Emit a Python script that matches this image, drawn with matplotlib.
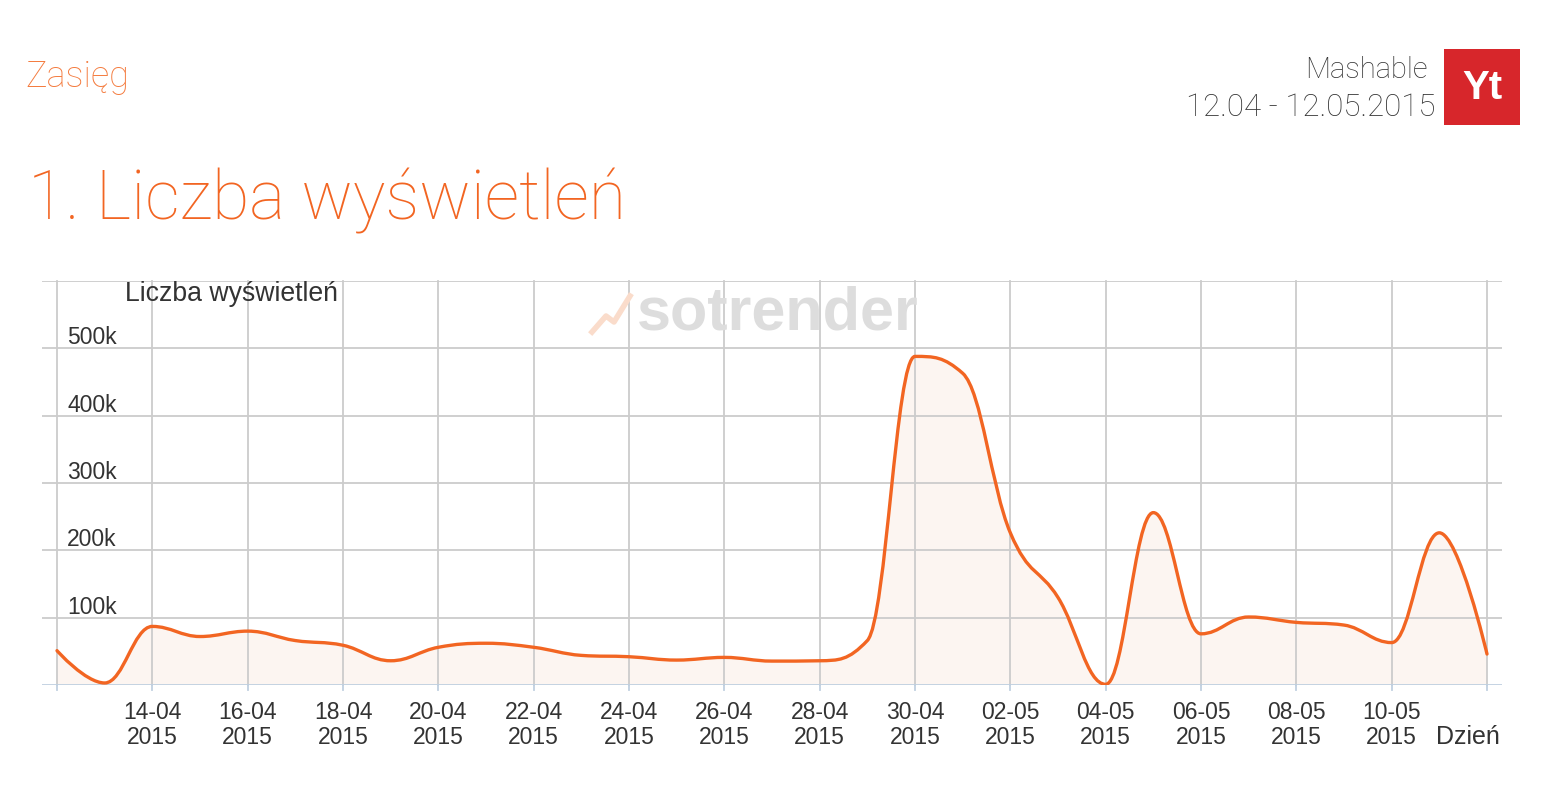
import matplotlib
matplotlib.use("Agg")
import matplotlib.pyplot as plt
from matplotlib.path import Path
from matplotlib.patches import PathPatch, Rectangle
import matplotlib.transforms as mtransforms

# ---- data ----
days = ["12-04", "13-04", "14-04", "15-04", "16-04", "17-04", "18-04", "19-04",
        "20-04", "21-04", "22-04", "23-04", "24-04", "25-04", "26-04", "27-04",
        "28-04", "29-04", "30-04", "01-05", "02-05", "03-05", "04-05", "05-05",
        "06-05", "07-05", "08-05", "09-05", "10-05", "11-05", "12-05"]
views = [51000, 3000, 87000, 72000, 80000, 66000, 59000, 36000,
         56000, 62000, 56000, 44000, 42000, 37000, 41000, 35500,
         36000, 66000, 488000, 463000, 226000, 130000, 1000, 256000,
         76000, 101000, 93000, 89000, 63000, 226000, 46000]
year = "2015"
y_ticks = [100000, 200000, 300000, 400000, 500000]
y_tick_labels = ["100k", "200k", "300k", "400k", "500k"]

ORANGE = "#F26522"
FILL = "#FCF5F1"
GRID = "#CCCCCC"
AXIS = "#C0D0E0"
TXT = "#333333"
LIGHT = dict(family="Roboto", fontweight="light")

def hc_spline(xs, ys, smoothing=1.5):
    """Highcharts-style spline: returns path vertices and codes."""
    n = len(xs)
    verts = [(xs[0], ys[0])]
    codes = [Path.MOVETO]
    left = [None] * n
    right = [None] * n
    denom = smoothing + 1
    for i in range(n):
        px, py = xs[i], ys[i]
        if i == 0 or i == n - 1:
            left[i] = (px, py)
            right[i] = (px, py)
            continue
        lx, ly = xs[i - 1], ys[i - 1]
        nx, ny = xs[i + 1], ys[i + 1]
        lcx = (smoothing * px + lx) / denom
        lcy = (smoothing * py + ly) / denom
        rcx = (smoothing * px + nx) / denom
        rcy = (smoothing * py + ny) / denom
        if rcx != lcx:
            corr = ((rcy - lcy) * (rcx - px)) / (rcx - lcx) + py - rcy
            lcy += corr
            rcy += corr
        if lcy > ly and lcy > py:
            lcy = max(ly, py); rcy = 2 * py - lcy
        elif lcy < ly and lcy < py:
            lcy = min(ly, py); rcy = 2 * py - lcy
        if rcy > ny and rcy > py:
            rcy = max(ny, py); lcy = 2 * py - rcy
        elif rcy < ny and rcy < py:
            rcy = min(ny, py); lcy = 2 * py - rcy
        left[i] = (lcx, lcy)
        right[i] = (rcx, rcy)
    for i in range(1, n):
        verts += [right[i - 1], left[i], (xs[i], ys[i])]
        codes += [Path.CURVE4] * 3
    return verts, codes

W, H = 1556, 809
fig = plt.figure(figsize=(W / 100, H / 100), dpi=100)
fig.patch.set_facecolor("white")

L, R, T, B = 42, 1502, 281, 685
ax = fig.add_axes([L / W, (H - B) / H, (R - L) / W, (B - T) / H])
n = len(views)
px_per_day = (1487 - 57) / (n - 1)
pad = 15 / px_per_day
ax.set_xlim(-pad, n - 1 + pad)
ax.set_ylim(0, 600000)
for s in ax.spines.values():
    s.set_visible(False)
ax.set_xticks([])
ax.set_yticks([])
ax.patch.set_alpha(0)

xs = list(range(n))
# spline fill + line
verts, codes = hc_spline(xs, views)
fill_verts = verts + [(xs[-1], 0), (xs[0], 0), verts[0]]
fill_codes = codes + [Path.LINETO, Path.LINETO, Path.CLOSEPOLY]
ax.add_patch(PathPatch(Path(fill_verts, fill_codes), facecolor=FILL, edgecolor="none", zorder=1))
ax.add_patch(PathPatch(Path(verts, codes), facecolor="none", edgecolor=ORANGE, lw=2.4, zorder=3,
                       capstyle="round", joinstyle="round"))

# horizontal grid
for v in [100000, 200000, 300000, 400000, 500000, 600000]:
    ax.axhline(v, color=GRID, lw=1.3, zorder=2)
# vertical grid, ticks, labels
for i in range(0, n, 2):
    ax.plot([i, i], [0, 600000], color=GRID, lw=1.3, zorder=2, clip_on=False)
    ax.plot([i, i], [0, -8000], color=AXIS, lw=1.3, zorder=2, clip_on=False)
    if 0 < i < n - 1:
        ax.text(i, -23500, days[i] + "\n" + year, ha="center", va="top",
                fontsize=16.5, color=TXT, family="Liberation Sans", linespacing=1.1)
ax.axhline(0, color=AXIS, lw=1.3, zorder=2)

# y labels
trans = mtransforms.blended_transform_factory(ax.transAxes, ax.transData)
for v, lab in zip(y_ticks, y_tick_labels):
    ax.text((67 - L) / (R - L), v - 1500, lab, transform=trans, ha="left", va="bottom",
            fontsize=16.5, color=TXT, family="Liberation Sans")
fig.text(125 / W, 1 - 294 / H, "Liczba wyświetleń", ha="left", va="center",
         fontsize=19.2, color=TXT, family="Liberation Sans")
fig.text(1500 / W, 1 - 737 / H, "Dzień", ha="right", va="center",
         fontsize=18, color=TXT, family="Liberation Sans")

# watermark
fig.text(637 / W, 1 - 314 / H, "sotrender", ha="left", va="center",
         fontsize=44, fontweight="bold", color="#DDDDDD", family="Liberation Sans", zorder=0)
fig.lines.append(plt.Line2D([592 / W, 606 / W, 614 / W, 630 / W],
                            [1 - 332 / H, 1 - 316 / H, 1 - 322 / H, 1 - 296 / H],
                            transform=fig.transFigure, color="#FADCCB", lw=4, zorder=0))

# header texts
fig.text(25 / W, 1 - 77 / H, "Zasięg", ha="left", va="center", fontsize=26,
         color="#F47B3E", **LIGHT)
fig.text(28 / W, 1 - 201 / H, "1. Liczba wyświetleń", ha="left", va="center", fontsize=49,
         color=ORANGE, **LIGHT)
fig.text(1428 / W, 1 - 70 / H, "Mashable", ha="right", va="center", fontsize=21,
         color="#333333", **LIGHT)
fig.text(1435 / W, 1 - 107 / H, "12.04 - 12.05.2015", ha="right", va="center", fontsize=22.5,
         color="#333333", **LIGHT)
# Yt logo
fig.patches.append(Rectangle((1444 / W, 1 - 125 / H), 76 / W, 76 / H, transform=fig.transFigure,
                             facecolor="#D7262B", edgecolor="none"))
fig.text(1482 / W, 1 - 88 / H, "Yt", ha="center", va="center", fontsize=29, fontweight="bold",
         color="white", family="Liberation Sans")

fig.savefig("out.png", dpi=100, facecolor="white")
